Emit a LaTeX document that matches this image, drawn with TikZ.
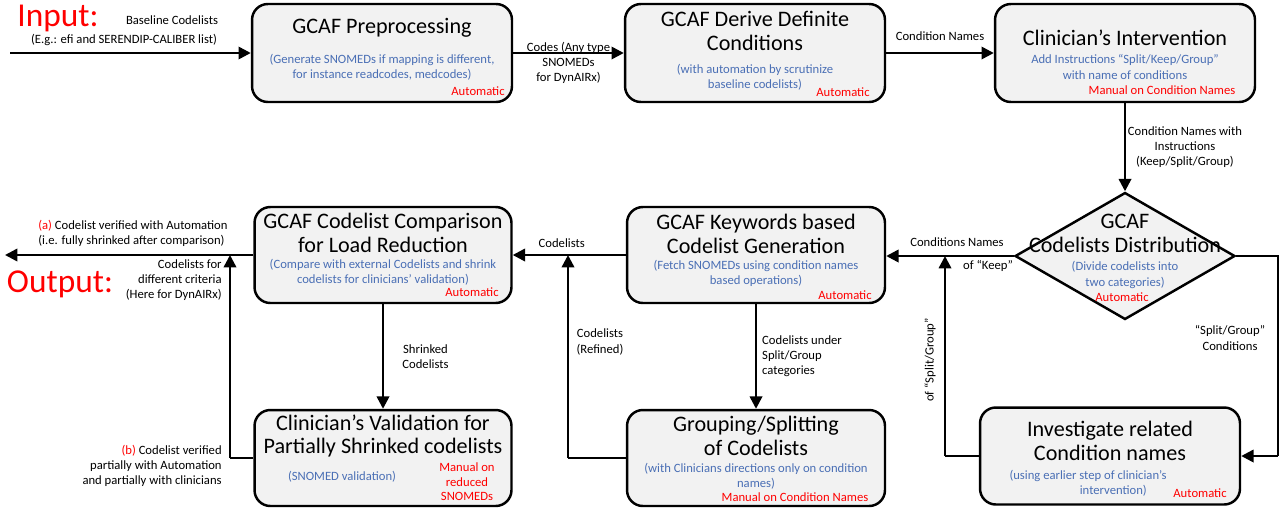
\documentclass[tikz,border=0pt]{standalone}
\usepackage{fontspec}
\setmainfont{Carlito}
\usetikzlibrary{arrows.meta,shapes.geometric}
\definecolor{bl}{HTML}{4A6FB5}
\definecolor{rd}{HTML}{FF0000}
\definecolor{bx}{HTML}{F2F2F2}
\begin{document}
\begin{tikzpicture}[x=0.02cm,y=-0.02cm,
  box/.style={draw,line width=1.4pt,rounded corners=9pt,fill=bx,inner sep=0},
  ttl/.style={font=\fontsize{12.6}{13.6}\selectfont,align=center,inner sep=0},
  sub/.style={text=bl,font=\fontsize{7.2}{8.6}\selectfont,align=center,inner sep=0},
  auto/.style={text=rd,font=\fontsize{7.2}{8.2}\selectfont,inner sep=0},
  lab/.style={font=\fontsize{7.2}{8.6}\selectfont,align=center,inner sep=0},
  ar/.style={line width=1.4pt,-{Triangle[length=7pt,width=7pt]}},
  ln/.style={line width=1.4pt}]
\useasboundingbox (0,0) rectangle (1280,511);
% boxes
\node[box,minimum width=5.2cm,minimum height=1.96cm] (b1) at (382,53) {};
\node[box,minimum width=5.2cm,minimum height=1.96cm] (b2) at (755,53) {};
\node[box,minimum width=5.2cm,minimum height=1.96cm] (b3) at (1125,53) {};
\node[draw,line width=1.4pt,fill=bx,diamond,aspect=1.75,minimum width=4.4cm,minimum height=2.54cm,inner sep=0] (d) at (1125,256) {};
\node[box,minimum width=5.16cm,minimum height=1.92cm] (b4) at (756,255) {};
\node[box,minimum width=5.14cm,minimum height=1.92cm] (b5) at (383,255) {};
\node[box,minimum width=5.14cm,minimum height=1.92cm] (b6) at (383,458) {};
\node[box,minimum width=5.16cm,minimum height=1.92cm] (b7) at (756,458) {};
\node[box,minimum width=5.2cm,minimum height=1.94cm] (b8) at (1110,456) {};
% box texts
\node[ttl] (t1) at (382,28) {GCAF Preprocessing};
\node[sub] (s1) at (382,67) {(Generate SNOMEDs if mapping is different,\\for instance readcodes, medcodes)};
\node[auto] (a1) at (478,91) {Automatic};
\node[ttl] (t2) at (755,31) {GCAF Derive Definite\\Conditions};
\node[sub] (s2) at (755,77) {(with automation by scrutinize\\baseline codelists)};
\node[auto] (a2) at (843,92) {Automatic};
\node[ttl] (t3) at (1125,38) {Clinician’s Intervention};
\node[sub] (s3) at (1125,67) {Add Instructions “Split/Keep/Group”\\with name of conditions};
\node[auto] (a3) at (1162,90) {Manual on Condition Names};
\node[ttl] (t4) at (1125,233) {GCAF\\Codelists Distribution};
\node[sub] (s4) at (1125,275) {(Divide codelists into\\two categories)};
\node[auto] (a4) at (1122,297) {Automatic};
\node[ttl] (t5) at (756,234) {GCAF Keywords based\\Codelist Generation};
\node[sub] (s5) at (756,273) {(Fetch SNOMEDs using condition names\\based operations)};
\node[auto] (a5) at (845,295) {Automatic};
\node[ttl] (t6) at (383,233) {GCAF Codelist Comparison\\for Load Reduction};
\node[sub] (s6) at (383,272) {(Compare with external Codelists and shrink\\codelists for clinicians' validation)};
\node[auto] (a6) at (472,292) {Automatic};
\node[ttl] (t7) at (383,436) {Clinician’s Validation for\\Partially Shrinked codelists};
\node[sub] (s7) at (342,477) {(SNOMED validation)};
\node[auto,align=center] (a7) at (467,482) {Manual on\\reduced\\SNOMEDs};
\node[ttl] (t8) at (756,436) {Grouping/Splitting\\of Codelists};
\node[sub] (s8) at (756,476) {(with Clinicians directions only on condition\\names)};
\node[auto] (a8) at (795,497) {Manual on Condition Names};
\node[ttl] (t9) at (1110,441) {Investigate related\\Condition names};
\node[sub] (s9) at (1088,483) {(using earlier step of clinician’s\\\hspace*{4em}intervention)};
\node[auto] (a9) at (1200,493) {Automatic};
% left texts
\node[text=rd,font=\fontsize{19}{20}\selectfont,inner sep=0] (in) at (58,18) {Input:};
\node[lab] (inl) at (172,20) {Baseline Codelists};
\node[lab] (inl2) at (124,40) {(E.g.: efi and SERENDIP-CALIBER list)};
\node[text=rd,font=\fontsize{19}{20}\selectfont,inner sep=0] (out) at (60,284) {Output:};
\node[lab,align=left,anchor=west] (oa) at (38,233) {{\color{rd}(a)} Codelist verified with Automation\\(i.e. fully shrinked after comparison)};
\node[lab,align=right,anchor=east] (ob) at (222,280) {Codelists for\\different criteria\\(Here for DynAIRx)};
\node[lab,align=right,anchor=east] (oc) at (222,466) {{\color{rd}(b)} Codelist verified\\partially with Automation\\and partially with clinicians};
% connectors
\coordinate (ins) at (10,53);
\draw[ar] (ins) -- (b1.west);
\draw[ar] (b1.east) -- (b2.west) node[lab,midway,yshift=-0.2cm] {Codes (Any type\\SNOMEDs\\for DynAIRx)};
\draw[ar] (b2.east) -- (b3.west) node[lab,midway,yshift=0.34cm] {Condition Names};
\draw[ar] (b3.south) -- (d.north) node[lab,midway,xshift=1.2cm] {Condition Names with\\Instructions\\(Keep/Split/Group)};
\draw[ar] (d.west) -- (b4.east|-d.west);
\node[lab] (k1) at (957,242) {Conditions Names};
\node[lab] (k2) at (988,266) {of “Keep”};
\draw[ar] (b4.west) -- (b5.east) node[lab,midway,yshift=0.24cm,xshift=-0.15cm] {Codelists};
\coordinate (oend) at (5,255);
\draw[ar] (b5.west) -- (oend);
\coordinate (r1) at (1278,256);
\coordinate (r2) at (1278,456);
\draw[ln] (d.east) -- (r1) -- (r2);
\draw[ar] (r2) -- (b8.east);
\node[lab] (sg) at (1230,338) {“Split/Group”\\Conditions};
\coordinate (l1) at (945,456);
\coordinate (l2) at (945,256);
\draw[ln] (b8.west) -- (l1);
\draw[ar] (l1) -- (l2);
\node[lab,rotate=90] (sgr) at (930,360) {of “Split/Group”};
\draw[ar] (b4.south) -- (b7.north) node[lab,midway,anchor=west,align=left,xshift=0.1cm] {Codelists under\\Split/Group\\categories};
\coordinate (m1) at (568,458);
\coordinate (m2) at (568,255);
\draw[ln] (b7.west) -- (m1);
\draw[ar] (m1) -- (m2);
\node[lab] (cr) at (600,342) {Codelists\\(Refined)};
\draw[ar] (b5.south) -- (b6.north) node[lab,midway,xshift=0.85cm] {Shrinked\\Codelists};
\coordinate (n1) at (230,458);
\coordinate (n2) at (230,255);
\draw[ln] (b6.west) -- (n1);
\draw[ar] (n1) -- (n2);
\end{tikzpicture}
\end{document}
